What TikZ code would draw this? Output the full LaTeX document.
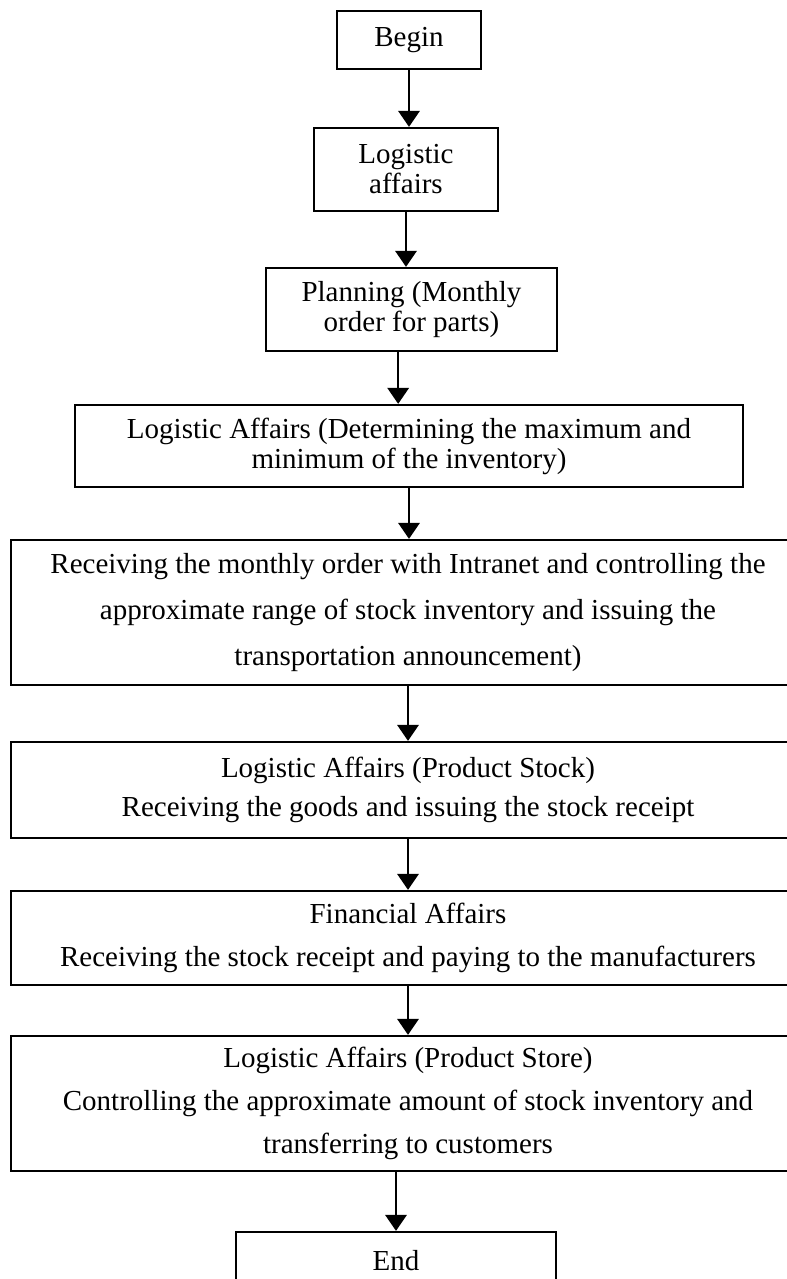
\documentclass[tikz,border=0pt]{standalone}
\usepackage{fontspec}
\setmainfont{Liberation Serif}
\usetikzlibrary{arrows.meta}

\tikzset{every picture/.style={line width=1.5pt}}
\tikzset{
  stepbox/.style={draw, line width=1.7pt, align=center, inner sep=0pt},
  arr/.style={-{Triangle[width=16pt,length=12pt]}, line width=1.7pt},
  tightfont/.style={font=\fontsize{21.75pt}{22.5pt}\selectfont},
  widefont/.style={font=\fontsize{21.75pt}{32pt}\selectfont},
}

\begin{document}
\begin{tikzpicture}[x=0.75pt,y=0.75pt,yscale=-1,xscale=1]
\useasboundingbox (0,0) rectangle (787,1279);

% Text Node
\node[stepbox, tightfont, minimum width=108pt, minimum height=43.5pt] (begin) at (409,40) {Begin};
% Text Node
\node[stepbox, tightfont, minimum width=138pt, minimum height=62.25pt] (logi) at (406,169.5) {Logistic\\affairs};
% Text Node
\node[stepbox, tightfont, minimum width=218.25pt, minimum height=62.25pt] (plan) at (411.5,309.5) {Planning (Monthly\\order for parts)};
% Text Node
\node[stepbox, tightfont, minimum width=501pt, minimum height=61.5pt] (determ) at (409,446) {Logistic Affairs (Determining the maximum and\\minimum of the inventory)};
% Text Node
\node[stepbox, font=\fontsize{21.75pt}{34.5pt}\selectfont, minimum width=595.5pt, minimum height=108.75pt] (receive) at (408,612.5) {Receiving the monthly order with Intranet and controlling the\\approximate range of stock inventory and issuing the\\transportation announcement)};
% Text Node
\node[stepbox, font=\fontsize{21.75pt}{29pt}\selectfont, minimum width=595.5pt, minimum height=72pt] (stock) at (408,790) {Logistic Affairs (Product Stock)\\Receiving the goods and issuing the stock receipt};
% Text Node
\node[stepbox, widefont, minimum width=595.5pt, minimum height=70.5pt] (finance) at (408,938) {Financial Affairs\\Receiving the stock receipt and paying to the manufacturers};
% Text Node
\node[stepbox, widefont, minimum width=595.5pt, minimum height=101.25pt] (store) at (408,1103.5) {Logistic Affairs (Product Store)\\Controlling the approximate amount of stock inventory and\\transferring to customers};
% Text Node
\node[stepbox, tightfont, minimum width=240pt, minimum height=43.5pt] (end) at (396,1261) {End};

%Straight Lines
\draw[arr] (begin.south) -- (begin.south |- logi.north);
%Straight Lines
\draw[arr] (logi.south) -- (logi.south |- plan.north);
%Straight Lines
\draw[arr] ([xshift=-10pt]plan.south) -- ([xshift=-10pt]plan.south |- determ.north);
%Straight Lines
\draw[arr] (determ.south) -- (determ.south |- receive.north);
%Straight Lines
\draw[arr] (receive.south) -- (stock.north);
%Straight Lines
\draw[arr] (stock.south) -- (finance.north);
%Straight Lines
\draw[arr] (finance.south) -- (store.north);
%Straight Lines
\draw[arr] (end.north |- store.south) -- (end.north);

\end{tikzpicture}
\end{document}
